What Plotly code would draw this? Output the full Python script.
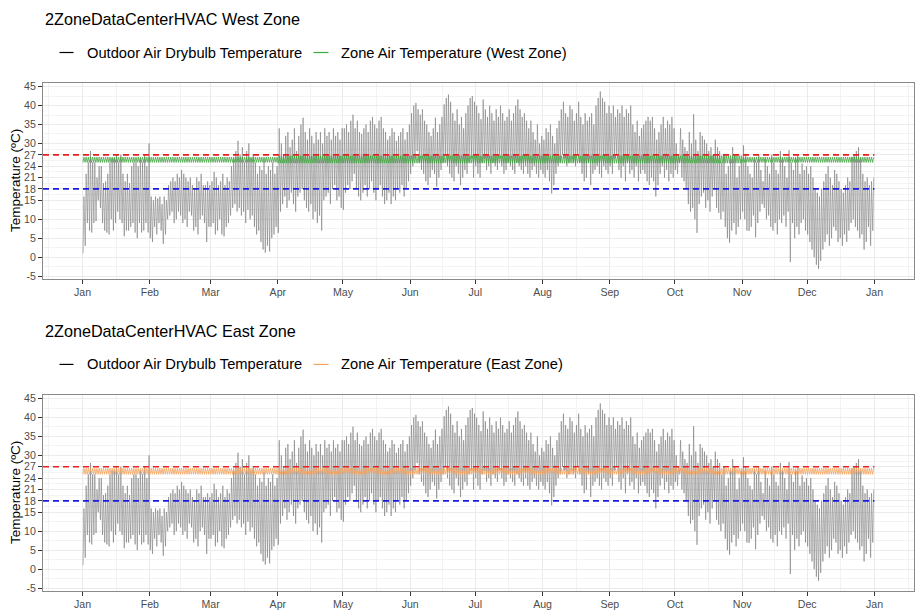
import pandas as pd
import plotly.graph_objects as go

# ---------------- data ----------------
YEAR = 2013
month_labels = ["Jan", "Feb", "Mar", "Apr", "May", "Jun", "Jul", "Aug", "Sep", "Oct", "Nov", "Dec", "Jan"]
y_ticks = [-5, 0, 5, 10, 15, 18, 21, 24, 27, 30, 35, 40, 45]

# daily maximum / minimum outdoor air drybulb temperature (degC)
max_jan = [16, 22, 25, 28, 25, 25, 21, 24, 24, 19.5, 20, 22, 25, 26, 26, 27, 25, 27, 22, 20, 22, 19.5, 24, 25, 25, 24, 26, 25, 27, 24, 30]
min_jan = [1, 3, 9, 7, 6.5, 9, 9.5, 15, 13, 9, 7, 6.5, 6, 10, 7, 9, 12, 10, 9, 5.5, 7, 7, 8, 9, 6.5, 5, 9, 6.5, 7, 9, 6.5]
max_feb = [16, 15, 16, 15.5, 16, 14, 16, 15, 19, 20, 21, 20, 22, 21, 23, 22, 21, 20, 21, 19, 18, 21, 20, 22, 19, 19, 20, 19]
min_feb = [5, 4, 8, 6, 9, 7, 3.5, 6, 10, 11, 12, 9, 10, 12, 11, 9, 10, 8, 12, 11, 7, 8, 6, 10, 11, 9, 4, 8]
max_mar = [20, 22.5, 21, 19, 20, 22, 19, 21, 20, 24, 26, 28, 30.7, 27, 29, 25, 28, 30, 26, 27, 25, 22, 24, 23, 25.5, 22, 24, 23, 25, 22, 24]
min_mar = [8, 9, 6, 7, 10, 6, 5.5, 8, 9, 11, 13, 14, 12, 13, 11, 12, 9, 12.5, 10, 11, 8, 6, 7, 4, 2, 1.2, 3, 1.5, 5, 6, 8]
max_apr = [34, 30, 27, 32, 33, 29, 31, 34, 28, 32, 35, 36.8, 33, 31, 34, 32, 30, 33, 31, 33, 30, 34, 32, 33, 31, 34, 32, 33, 31, 34]
min_apr = [6.4, 12, 14, 16, 13, 15, 17, 14, 12, 16, 17, 18, 15, 13, 12, 14, 10, 12, 9, 11, 7, 15, 16, 17, 14, 18, 19, 15, 16, 13]
max_may = [34, 35, 33, 36, 37.6, 34, 36, 33, 32.5, 34, 35, 33, 36, 37, 35, 34, 36, 37, 34, 33, 31, 32, 34, 33, 30.7, 32, 33, 34, 31, 33, 35]
min_may = [12.5, 17, 19, 18, 20, 22, 18, 16, 15, 17, 19, 16, 18, 20, 17, 15, 18, 19, 16, 14, 15, 17, 14, 16, 15, 18, 17, 19, 16, 18, 20]
max_jun = [38, 40, 40.7, 39, 37.6, 39, 36, 35, 33, 32, 34, 36.8, 33, 35, 37, 40.3, 42, 42.9, 41, 38, 36, 39, 35, 37, 34, 38, 40, 42, 42.5, 41]
min_jun = [22, 24, 26, 28, 25, 23, 22, 20, 19, 21, 23, 22, 18.6, 21, 23, 25, 27, 24, 22, 21, 20, 24, 22, 19, 21, 23, 22, 25, 26, 21]
max_jul = [40, 38, 36.4, 41.6, 39, 37, 40, 38, 36, 39, 37, 40, 38, 36, 37, 39, 36, 38, 40, 41.6, 39, 37, 38, 36, 34, 36, 33, 31, 35, 30, 32]
min_jul = [24, 22, 21, 25, 26, 23, 24, 22, 25, 24, 23, 26, 24, 22, 23, 25, 24, 23, 22, 25, 24, 23, 22, 24, 22, 21, 23, 24, 22, 21, 23]
max_aug = [31, 34, 33, 35, 32, 30, 34, 36, 39, 41, 38, 37, 40, 39, 36, 38, 41, 37, 35, 38, 36, 37, 38, 35, 40, 42, 43.7, 42, 41, 38, 40]
min_aug = [22, 21, 23, 20, 16.8, 19, 22, 24, 25, 27, 26, 24, 25, 26, 25, 24, 27, 25, 22, 20, 21, 25, 19, 22, 23, 24, 22, 21, 24, 23, 22]
max_sep = [38, 40, 37, 39, 38, 40, 37, 39, 38, 40, 35, 33, 36, 32, 34, 35, 36, 37, 36, 37, 34, 31, 33, 35, 37, 34, 36, 35, 37, 34]
min_sep = [24, 22, 26, 27, 23, 21, 24, 20, 25, 22, 23, 21, 24, 20, 22, 23, 22, 20, 19, 21, 20, 16, 19, 22, 24, 21, 23, 20, 22, 21]
max_oct = [30, 27, 34, 31, 29, 28, 33, 30, 37.7, 31, 28, 33, 32, 31, 30, 28, 29, 27, 31, 29, 28, 25, 27, 22, 24, 26, 29, 27, 21, 24, 26]
min_oct = [23, 22, 25, 21, 20, 18, 14, 12, 13, 10, 6.4, 14, 16, 17, 13, 15, 12, 16, 18, 13, 11.7, 10, 12, 8, 5, 3.8, 7, 9, 6, 8, 10]
max_nov = [29.5, 27, 24, 22, 21, 26, 25, 27, 23, 20, 26, 24, 22, 27, 25, 23, 22, 28, 26, 24, 21, 28.2, 25, 23, 26, 27, 22, 24.7, 23, 24]
min_nov = [12, 10, 7, 6.9, 8, 11, 5.2, 9, 12, 14, 13, 10, 11, 8, 7, 9, 6, 10, 9, 11, 8, 12, -1.3, 9, 5, 8, 6, 9, 10, 7]
max_dec = [22, 24, 21, 18, 17, 16, 18, 20, 22, 24, 21, 19, 23, 22, 20, 18, 17, 19, 21, 20, 26.5, 27, 28, 29, 26, 22, 20, 21, 19, 20, 21]
min_dec = [6, 4, 2, 0, -2, -3.1, -1, 2, 4, 6, 3, 5, 8, 7, 4, 5, 3, 6, 4, 7, 9, 10, 8, 7, 5, 6, 2, 4, 8, 3, 7]

# monthly range of the zone air temperature (degC)
west_zone_min = [25.0, 25.0, 25.0, 24.8, 24.8, 24.8, 24.8, 24.8, 24.8, 24.8, 25.0, 25.0]
west_zone_max = [26.4, 26.4, 26.4, 26.8, 26.8, 26.8, 26.8, 26.8, 26.8, 26.8, 26.4, 26.4]
east_zone_min = [25.0, 25.0, 25.0, 25.0, 25.0, 25.0, 25.0, 25.0, 25.0, 25.0, 25.0, 25.0]
east_zone_max = [26.6, 26.6, 26.6, 26.6, 26.6, 26.6, 26.6, 26.6, 26.6, 26.6, 26.6, 26.6]

thresholds = [27, 18]
threshold_colors = ["#e8201f", "#1a1ae6"]

# ---------------- assemble series ----------------
daily_max = (max_jan + max_feb + max_mar + max_apr + max_may + max_jun +
             max_jul + max_aug + max_sep + max_oct + max_nov + max_dec)
daily_min = (min_jan + min_feb + min_mar + min_apr + min_may + min_jun +
             min_jul + min_aug + min_sep + min_oct + min_nov + min_dec)
days = pd.date_range(f"{YEAR}-01-01", periods=len(daily_max), freq="D")

out_x, out_y = [], []
for d, lo, hi in zip(days, daily_min, daily_max):
    out_x += [d + pd.Timedelta(hours=5), d + pd.Timedelta(hours=15)]
    out_y += [lo, hi]


def zone_series(zmin, zmax):
    zx, zy = [], []
    for d in days:
        m = d.month - 1
        zx += [d + pd.Timedelta(hours=3), d + pd.Timedelta(hours=15)]
        zy += [zmin[m], zmax[m]]
    return zx, zy


west_x, west_y = zone_series(west_zone_min, west_zone_max)
east_x, east_y = zone_series(east_zone_min, east_zone_max)

t_start = days[0]
t_end = days[-1] + pd.Timedelta(hours=23)
pad = (t_end - t_start) * 0.05
x_range = [t_start - pad, t_end + pad]

month_starts = list(pd.date_range(f"{YEAR}-01-01", periods=13, freq="MS"))
ext = list(pd.date_range(f"{YEAR-1}-12-01", periods=15, freq="MS"))
minor_x = [a + (b - a) / 2 for a, b in zip(ext[:-1], ext[1:])]
minor_x = [m for m in minor_x if x_range[0] < m < x_range[1]]
y_range = [-5.7, 45.9]
minor_y = [(a + b) / 2 for a, b in zip(y_ticks[:-1], y_ticks[1:])]

# ---------------- figure ----------------
W, H = 916, 611
FONT = "Liberation Sans, Arial, sans-serif"


def fx(p):
    return p / W


def fy(p):
    return 1 - p / H


panels = [
    dict(title="2ZoneDataCenterHVAC West Zone", zone_name="Zone Air Temperature (West Zone)",
         zx=west_x, zy=west_y, zcolor="rgba(60,160,60,0.75)", lcolor="#3cab3c",
         top=81.0, bottom=278.5, xa="x", ya="y"),
    dict(title="2ZoneDataCenterHVAC East Zone", zone_name="Zone Air Temperature (East Zone)",
         zx=east_x, zy=east_y, zcolor="rgba(244,164,96,0.8)", lcolor="#f4a460",
         top=396.0, bottom=593.5, xa="x2", ya="y2"),
]

fig = go.Figure()
shapes = []
annotations = []
layout_axes = {}

for i, p in enumerate(panels):
    fig.add_trace(go.Scatter(x=out_x, y=out_y, mode="lines", xaxis=p["xa"], yaxis=p["ya"],
                             line=dict(color="rgba(115,115,115,0.6)", width=0.9),
                             showlegend=False, hoverinfo="skip"))
    fig.add_trace(go.Scatter(x=p["zx"], y=p["zy"], mode="lines", xaxis=p["xa"], yaxis=p["ya"],
                             line=dict(color=p["zcolor"], width=1),
                             showlegend=False, hoverinfo="skip"))
    for val, col in zip(thresholds, threshold_colors):
        shapes.append(dict(type="line", xref=p["xa"], yref=p["ya"], x0=x_range[0], x1=t_end,
                           y0=val, y1=val, line=dict(color=col, width=1.7, dash="6px,4px")))

    xkey = "xaxis" if i == 0 else "xaxis2"
    ykey = "yaxis" if i == 0 else "yaxis2"
    layout_axes[xkey] = dict(
        domain=[fx(43), fx(914)], anchor=p["ya"], type="date", range=x_range,
        tickmode="array", tickvals=month_starts, ticktext=month_labels,
        ticks="outside", ticklen=4, tickwidth=1, tickcolor="#333333",
        tickfont=dict(family=FONT, size=10.6, color="#4d4d4d"),
        showgrid=True, gridcolor="#ebebeb", gridwidth=1,
        minor=dict(tickmode="array", tickvals=minor_x, showgrid=True, gridcolor="#f3f3f3", gridwidth=0.6),
        showline=True, mirror=True, linecolor="#8a8a8a", linewidth=1, zeroline=False)
    layout_axes[ykey] = dict(
        domain=[fy(p["bottom"]), fy(p["top"])], anchor=p["xa"], range=y_range,
        tickmode="array", tickvals=y_ticks, ticktext=[str(v) for v in y_ticks],
        ticks="outside", ticklen=4, tickwidth=1, tickcolor="#333333",
        tickfont=dict(family=FONT, size=10.6, color="#4d4d4d"),
        showgrid=True, gridcolor="#ebebeb", gridwidth=1,
        minor=dict(tickmode="array", tickvals=minor_y, showgrid=True, gridcolor="#f3f3f3", gridwidth=0.6),
        showline=True, mirror=True, linecolor="#8a8a8a", linewidth=1, zeroline=False)

    off = p["top"] - 81.0
    # title
    annotations.append(dict(text=p["title"], xref="paper", yref="paper", x=fx(43), y=fy(16.5 + off),
                            xanchor="left", yanchor="middle", showarrow=False,
                            font=dict(family=FONT, size=16.2, color="#000000")))
    # y axis title
    annotations.append(dict(text="Temperature (ºC)", xref="paper", yref="paper", x=fx(16),
                            y=fy((p["top"] + p["bottom"]) / 2), textangle=-90,
                            xanchor="center", yanchor="middle", showarrow=False,
                            font=dict(family=FONT, size=13.5, color="#000000")))
    # manual legend
    ly = fy(50 + off)
    shapes.append(dict(type="line", xref="paper", yref="paper", x0=fx(59.5), x1=fx(73.5), y0=ly, y1=ly,
                       line=dict(color="#000000", width=1.2)))
    annotations.append(dict(text="Outdoor Air Drybulb Temperature", xref="paper", yref="paper",
                            x=fx(84.5), y=ly, xanchor="left", yanchor="middle", showarrow=False,
                            font=dict(family=FONT, size=14.7, color="#000000")))
    shapes.append(dict(type="line", xref="paper", yref="paper", x0=fx(313.5), x1=fx(328.5), y0=ly, y1=ly,
                       line=dict(color=p["lcolor"], width=1.2)))
    annotations.append(dict(text=p["zone_name"], xref="paper", yref="paper",
                            x=fx(339), y=ly, xanchor="left", yanchor="middle", showarrow=False,
                            font=dict(family=FONT, size=14.7, color="#000000")))

fig.update_layout(
    width=W, height=H, margin=dict(l=0, r=0, t=0, b=0),
    paper_bgcolor="white", plot_bgcolor="white",
    showlegend=False, shapes=shapes, annotations=annotations,
    font=dict(family=FONT), **layout_axes)

fig.write_html("out.html")
